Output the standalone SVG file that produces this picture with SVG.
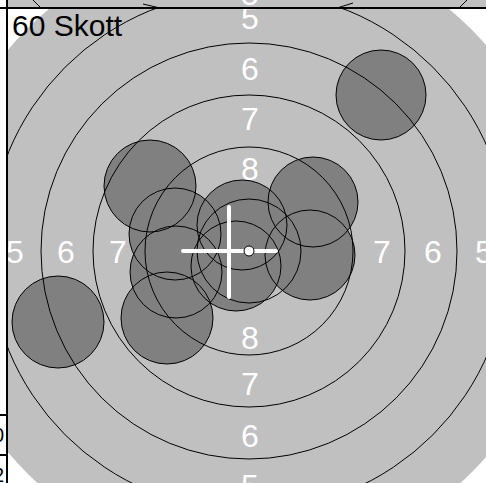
<svg xmlns="http://www.w3.org/2000/svg" width="486" height="483" viewBox="0 0 486 483">
<style>
.ring{fill:none;stroke:#000;stroke-width:1}
.shot{fill:#808080}
.edge{fill:none;stroke:#000;stroke-width:1}
.lbl{font-family:"Liberation Sans",Arial,sans-serif;font-size:32px;fill:#fff;text-anchor:middle}
.frame{stroke:#000;stroke-width:2;fill:none}
.side{font-family:"Liberation Sans",Arial,sans-serif;font-size:20px;fill:#000;text-anchor:end}
</style>
<defs>
<clipPath id="panel"><rect x="8" y="9" width="478" height="474"/></clipPath>
<clipPath id="strip"><rect x="8" y="0" width="478" height="8"/></clipPath>
<clipPath id="leftcol"><rect x="0" y="9" width="6" height="474"/></clipPath>
</defs>
<rect width="486" height="483" fill="#fff"/>
<g id="topstrip" clip-path="url(#strip)">
<rect x="8" y="0" width="478" height="8" fill="#c0c0c0"/>
<path class="ring" d="M33,0 L40,7 M143,4 L160,8 M337,8 L353,3 M467,0 L460,7"/>
<text class="lbl" x="250" y="5">5</text>
</g>
<g id="leftcolumn" clip-path="url(#leftcol)">
<text class="side" x="4" y="442">0</text>
<text class="side" x="4" y="482">2</text>
</g>
<g id="target" clip-path="url(#panel)">
<circle cx="249" cy="251" r="314" fill="#c0c0c0"/>
<g id="shots">
<circle class="shot" cx="381" cy="95" r="45"/>
<circle class="shot" cx="58" cy="322" r="46"/>
<circle class="shot" cx="167" cy="318" r="46"/>
<circle class="shot" cx="150" cy="186" r="46"/>
<circle class="shot" cx="175" cy="234" r="46"/>
<circle class="shot" cx="313" cy="202" r="45"/>
<circle class="shot" cx="310" cy="255" r="45"/>
<circle class="shot" cx="242" cy="225" r="45"/>
<circle class="shot" cx="236" cy="266" r="45"/>
<circle class="shot" cx="176" cy="272" r="46"/>
</g>
<g id="rings">
<circle class="ring" cx="249" cy="251" r="52"/>
<circle class="ring" cx="249" cy="251" r="104"/>
<circle class="ring" cx="249" cy="251" r="156"/>
<circle class="ring" cx="249" cy="251" r="208"/>
<circle class="ring" cx="249" cy="251" r="260"/>
</g>
<g id="shot-edges">
<circle class="edge" cx="381" cy="95" r="45"/>
<circle class="edge" cx="58" cy="322" r="46"/>
<circle class="edge" cx="167" cy="318" r="46"/>
<circle class="edge" cx="150" cy="186" r="46"/>
<circle class="edge" cx="175" cy="234" r="46"/>
<circle class="edge" cx="313" cy="202" r="45"/>
<circle class="edge" cx="310" cy="255" r="45"/>
<circle class="edge" cx="242" cy="225" r="45"/>
<circle class="edge" cx="236" cy="266" r="45"/>
<circle class="edge" cx="176" cy="272" r="46"/>
</g>
<g id="labels">
<text class="lbl" x="250" y="29">5</text>
<text class="lbl" x="250" y="80">6</text>
<text class="lbl" x="250" y="130">7</text>
<text class="lbl" x="250" y="180">8</text>
<text class="lbl" x="250" y="349">8</text>
<text class="lbl" x="250" y="395">7</text>
<text class="lbl" x="250" y="447">6</text>
<text class="lbl" x="250" y="497">5</text>
<text class="lbl" x="15" y="263">5</text>
<text class="lbl" x="66" y="263">6</text>
<text class="lbl" x="118" y="263">7</text>
<text class="lbl" x="382" y="263">7</text>
<text class="lbl" x="433" y="263">6</text>
<text class="lbl" x="484" y="263">5</text>
</g>
<g id="crosshair">
<path d="M229,207 V297 M183,251 H276" stroke="#fff" stroke-width="4" stroke-linecap="round" fill="none"/>
<circle cx="249" cy="251" r="5" fill="#fff" stroke="#000" stroke-width="1"/>
</g>
</g>
<g id="frame">
<path class="frame" d="M0,8 H486 M7,0 V483 M0,415 H7 M0,455 H7"/>
</g>
<text x="12" y="36" font-family="Liberation Sans, Arial, sans-serif" font-size="30" fill="#000">60 Skott</text>
</svg>
